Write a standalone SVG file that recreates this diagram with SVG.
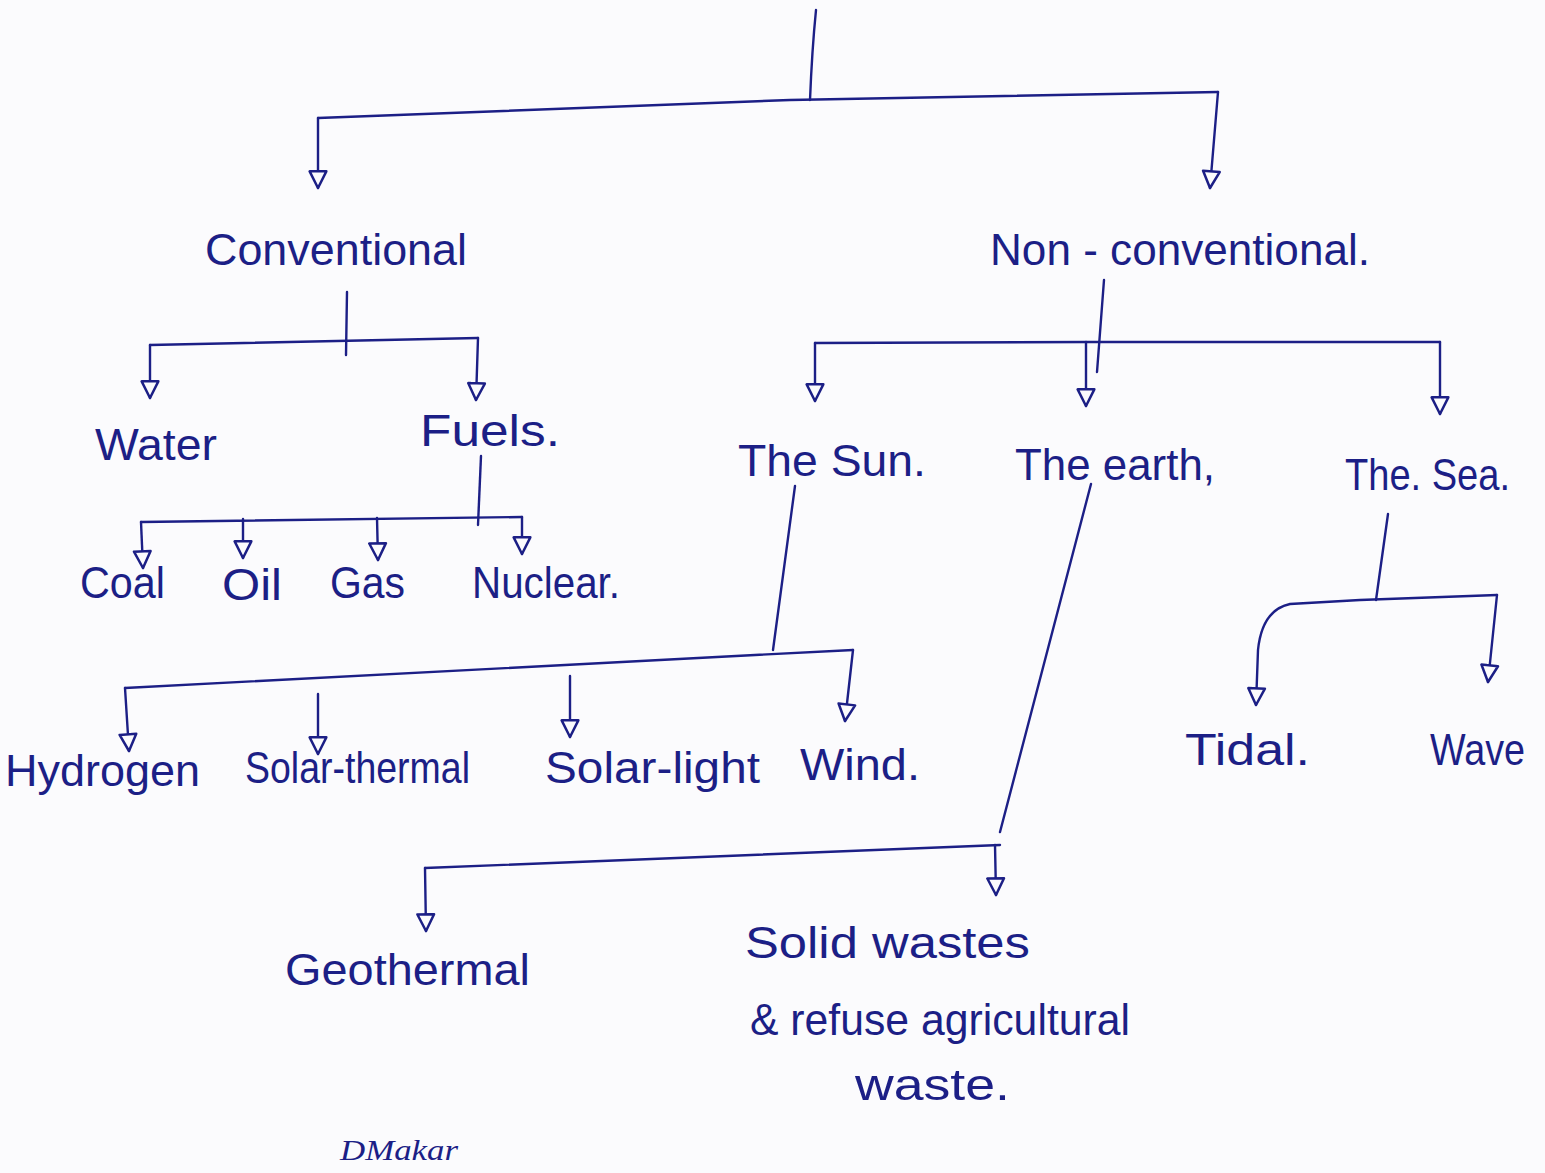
<svg xmlns="http://www.w3.org/2000/svg" width="1545" height="1173" viewBox="0 0 1545 1173">
<style>
.bg{fill:#fbfbfd}
.ln{fill:none;stroke:#1c1f86;stroke-width:2.4;stroke-linecap:round;stroke-linejoin:round}
.ar{marker-end:url(#tri)}
.t{font-family:"Liberation Sans","DejaVu Sans",sans-serif;fill:#1c1f86;font-size:44px}
.s{font-family:"Liberation Serif",serif;font-style:italic;fill:#1c1f86;font-size:30px}
</style>
<defs>
<marker id="tri" viewBox="0 0 12 12" refX="11" refY="6" markerWidth="20" markerHeight="20" markerUnits="userSpaceOnUse" orient="auto">
<path d="M1,1 L11,6 L1,11 Z" fill="#fbfbfd" stroke="#1c1f86" stroke-width="1.5" stroke-linejoin="round"/>
</marker>
</defs>
<rect class="bg" x="0" y="0" width="1545" height="1173"/>
<g id="connectors">
<path class="ln" d="M816,10 Q812,50 810,100"/>
<path class="ln" d="M318,118 L790,100 L1218,92"/>
<path class="ln ar" d="M318,118 L318,188"/>
<path class="ln ar" d="M1218,92 L1210,188"/>
<path class="ln" d="M347,292 L346,355"/>
<path class="ln" d="M150,345 L478,338"/>
<path class="ln ar" d="M150,345 L150,398"/>
<path class="ln ar" d="M478,338 L476,400"/>
<path class="ln" d="M481,456 L478,525"/>
<path class="ln" d="M141,522 L522,517"/>
<path class="ln ar" d="M141,522 L143,568"/>
<path class="ln ar" d="M243,519 L243,558"/>
<path class="ln ar" d="M377,518 L378,560"/>
<path class="ln ar" d="M522,517 L522,554"/>
<path class="ln" d="M1104,280 L1097,372"/>
<path class="ln" d="M815,343 L1088,342 L1440,342"/>
<path class="ln ar" d="M815,343 L815,401"/>
<path class="ln ar" d="M1086,342 L1086,406"/>
<path class="ln ar" d="M1440,342 L1440,414"/>
<path class="ln" d="M795,486 L773,650"/>
<path class="ln" d="M125,688 L755,655 L853,650"/>
<path class="ln ar" d="M125,688 L129,751"/>
<path class="ln ar" d="M318,694 L318,754"/>
<path class="ln ar" d="M570,676 L570,737"/>
<path class="ln ar" d="M853,650 L845,721"/>
<path class="ln" d="M1091,484 L1000,832"/>
<path class="ln" d="M425,868 L1000,845"/>
<path class="ln ar" d="M425,868 L426,931"/>
<path class="ln ar" d="M995,845 L996,895"/>
<path class="ln" d="M1388,514 L1376,600"/>
<path class="ln ar" d="M1497,595 L1360,600 L1290,604 Q1262,610 1258,650 L1256,705"/>
<path class="ln ar" d="M1497,595 L1488,682"/>
</g>
<g id="n-conventional"><text class="t" x="205" y="265" font-size="42" textLength="262" lengthAdjust="spacingAndGlyphs">Conventional</text></g>
<g id="n-nonconventional"><text class="t" x="990" y="265" textLength="380" lengthAdjust="spacingAndGlyphs">Non - conventional.</text></g>
<g id="n-water"><text class="t" x="95" y="460" textLength="122" lengthAdjust="spacingAndGlyphs">Water</text></g>
<g id="n-fuels"><text class="t" x="420" y="446" font-size="47" textLength="140" lengthAdjust="spacingAndGlyphs">Fuels.</text></g>
<g id="n-coal"><text class="t" x="80" y="598" font-size="42" textLength="85" lengthAdjust="spacingAndGlyphs">Coal</text></g>
<g id="n-oil"><text class="t" x="222" y="600" font-size="44" textLength="60" lengthAdjust="spacingAndGlyphs">Oil</text></g>
<g id="n-gas"><text class="t" x="330" y="598" font-size="42" textLength="75" lengthAdjust="spacingAndGlyphs">Gas</text></g>
<g id="n-nuclear"><text class="t" x="472" y="598" font-size="41" textLength="148" lengthAdjust="spacingAndGlyphs">Nuclear.</text></g>
<g id="n-sun"><text class="t" x="738" y="476" font-size="45" textLength="188" lengthAdjust="spacingAndGlyphs">The Sun.</text></g>
<g id="n-earth"><text class="t" x="1015" y="480" textLength="200" lengthAdjust="spacingAndGlyphs">The earth,</text></g>
<g id="n-sea"><text class="t" x="1345" y="490" font-size="40" textLength="165" lengthAdjust="spacingAndGlyphs">The. Sea.</text></g>
<g id="n-hydrogen"><text class="t" x="5" y="786" textLength="195" lengthAdjust="spacingAndGlyphs">Hydrogen</text></g>
<g id="n-solarthermal"><text class="t" x="245" y="783" font-size="40" textLength="225" lengthAdjust="spacingAndGlyphs">Solar-thermal</text></g>
<g id="n-solarlight"><text class="t" x="545" y="783" font-size="46" textLength="215" lengthAdjust="spacingAndGlyphs">Solar-light</text></g>
<g id="n-wind"><text class="t" x="800" y="780" font-size="46" textLength="120" lengthAdjust="spacingAndGlyphs">Wind.</text></g>
<g id="n-tidal"><text class="t" x="1185" y="765" font-size="46" textLength="125" lengthAdjust="spacingAndGlyphs">Tidal.</text></g>
<g id="n-wave"><text class="t" x="1430" y="765" font-size="40" textLength="95" lengthAdjust="spacingAndGlyphs">Wave</text></g>
<g id="n-geothermal"><text class="t" x="285" y="985" font-size="46" textLength="245" lengthAdjust="spacingAndGlyphs">Geothermal</text></g>
<g id="n-solidwastes">
<text class="t" x="745" y="958" font-size="46" textLength="285" lengthAdjust="spacingAndGlyphs">Solid wastes</text>
<text class="t" x="750" y="1035" font-size="42" textLength="380" lengthAdjust="spacingAndGlyphs">&amp; refuse agricultural</text>
<text class="t" x="855" y="1100" font-size="46" textLength="155" lengthAdjust="spacingAndGlyphs">waste.</text>
</g>
<g id="signature"><text class="s" x="340" y="1160" textLength="118" lengthAdjust="spacingAndGlyphs">DMakar</text></g>
</svg>
